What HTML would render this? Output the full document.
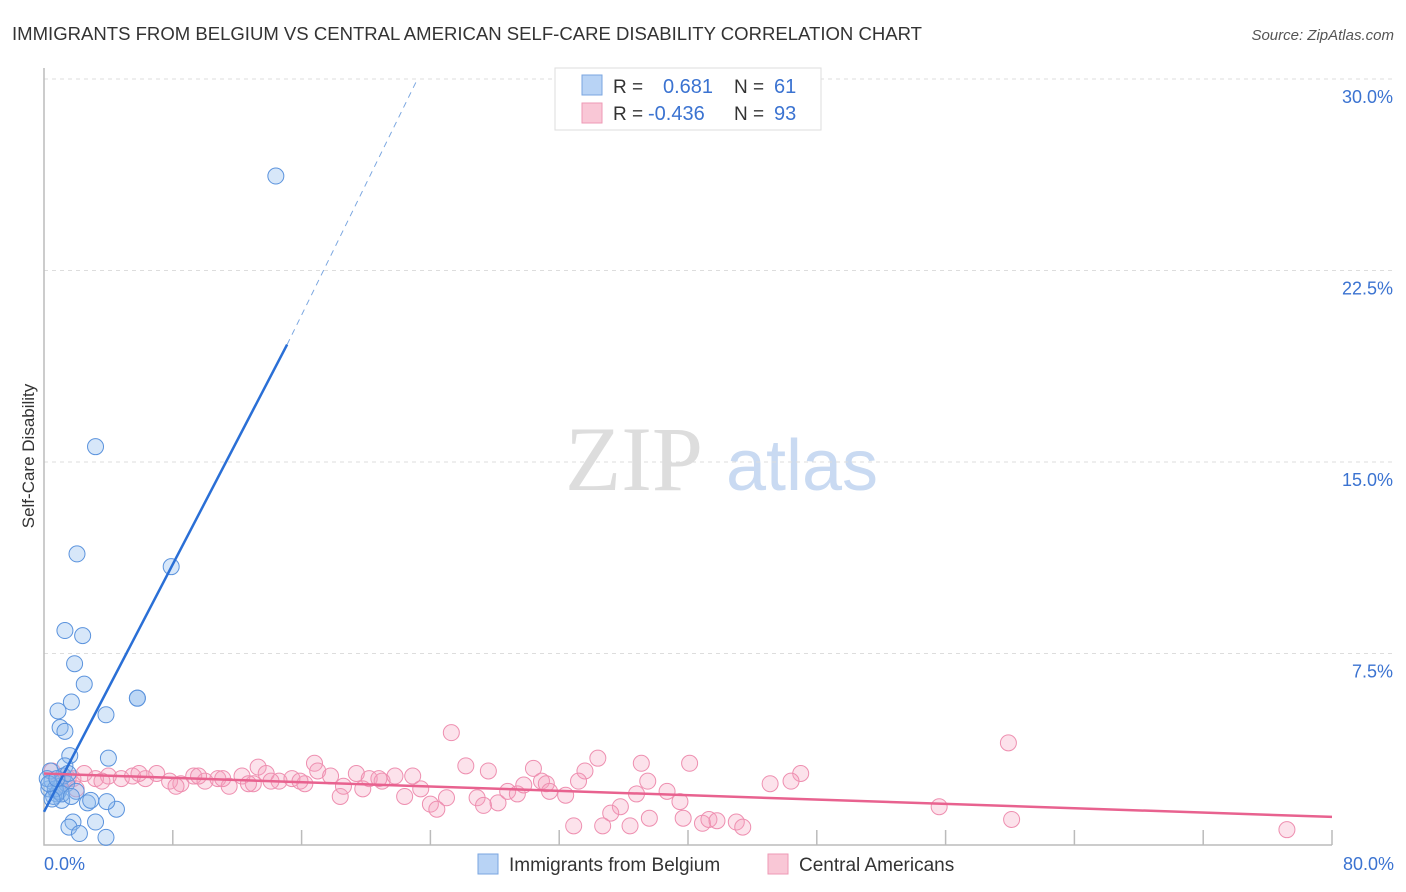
<!DOCTYPE html>
<html><head><meta charset="utf-8"><style>
body{margin:0;background:#fff;font-family:"Liberation Sans",sans-serif;}
</style></head><body>
<svg id="chart" width="1406" height="892" xmlns="http://www.w3.org/2000/svg" style="display:block">
<text x="12" y="40" font-size="18" fill="#333" textLength="910" lengthAdjust="spacingAndGlyphs">IMMIGRANTS FROM BELGIUM VS CENTRAL AMERICAN SELF-CARE DISABILITY CORRELATION CHART</text>
<text x="1394" y="40" font-size="15" fill="#555" font-style="italic" text-anchor="end">Source: ZipAtlas.com</text>
<text transform="translate(34,456) rotate(-90)" font-size="17" fill="#333" text-anchor="middle">Self-Care Disability</text>
<g>
<text x="634" y="490" font-size="92" fill="#ddd" font-family="Liberation Serif,serif" text-anchor="middle">ZIP</text>
<text x="802" y="490" font-size="72" fill="#c9daf2" text-anchor="middle">atlas</text>
</g>
<g id="grid"></g><g id="axes"></g><g id="pts"></g><g id="lines"></g>
<g>
<rect x="555" y="68" width="266" height="62" fill="#fff" stroke="#ddd"/>
<rect x="582" y="75" width="20" height="20" fill="#b8d3f5" stroke="#7aa6e0"/>
<rect x="582" y="103" width="20" height="20" fill="#f9c7d6" stroke="#ee9ab5"/>
<text x="613" y="93" font-size="19" fill="#333">R =</text>
<text x="663" y="93" font-size="20" fill="#3b73d1">0.681</text>
<text x="734" y="93" font-size="19" fill="#333">N =</text>
<text x="774" y="93" font-size="20" fill="#3b73d1">61</text>
<text x="613" y="120" font-size="19" fill="#333">R =</text>
<text x="648" y="120" font-size="20" fill="#3b73d1">-0.436</text>
<text x="734" y="120" font-size="19" fill="#333">N =</text>
<text x="774" y="120" font-size="20" fill="#3b73d1">93</text>
</g>
<g>
<rect x="478" y="854" width="20" height="20" fill="#b8d3f5" stroke="#7aa6e0"/>
<text x="509" y="871" font-size="19" fill="#333">Immigrants from Belgium</text>
<rect x="768" y="854" width="20" height="20" fill="#f9c7d6" stroke="#ee9ab5"/>
<text x="799" y="871" font-size="19" fill="#333">Central Americans</text>
</g>
</svg>
<script>
const blueX=[14.4,3.2,2.05,7.9,1.3,2.4,1.9,2.5,1.7,5.8,5.8,3.85,0.87,1.0,1.3,1.6,4.0,1.3,1.8,1.55,2.2,3.85,3.2,2.7,4.5,3.9,2.9,1.1,0.3,0.5,0.8,1.0,1.2,0.4,0.6,0.9,1.4,0.2,0.7,1.1,0.5,1.5,0.3,0.8,2.0,1.7];
const blueY=[26.2,15.6,11.4,10.9,8.4,8.2,7.1,6.3,5.6,5.75,5.75,5.1,5.25,4.6,4.45,3.5,3.4,3.1,0.9,0.7,0.45,0.3,0.9,1.65,1.4,1.7,1.75,1.75,2.2,2.5,2.0,2.3,2.7,2.9,1.9,2.1,2.4,2.6,2.2,2.0,1.8,2.8,2.4,2.6,2.1,1.9];
const pinkX=[25.3,59.9,55.6,60.1,77.2,47,45.1,46.4,40.1,34.4,37.1,26.2,16.8,13.3,27.6,30.4,33.6,37.5,36.8,38.7,39.5,35.8,35.2,32.9,34.7,36.4,37.6,39.7,40.9,41.3,41.8,43.0,43.4,24.0,24.4,25.0,26.9,27.3,28.2,22.4,18.4,28.8,29.4,30.9,31.2,31.4,32.4,33.2,29.8,23.4,22.9,0.5,1.2,1.8,2.5,3.2,4.0,4.8,5.5,6.3,7.0,7.8,8.5,9.3,10.0,10.8,11.5,12.3,13.0,13.8,14.6,15.4,16.2,17.0,17.8,18.6,19.4,20.2,21.0,21.8,19.8,20.8,3.6,5.9,8.2,11.1,14.1,0.9,2.0,1.5,9.6,12.7,15.9];
const pinkY=[4.4,4.0,1.5,1.0,0.6,2.8,2.4,2.5,3.2,3.4,3.2,3.1,3.2,3.05,2.9,3.0,2.9,2.5,2.0,2.1,1.7,1.5,1.25,0.75,0.75,0.75,1.05,1.05,0.85,1.0,0.95,0.9,0.7,1.6,1.4,1.85,1.85,1.55,1.65,1.9,1.9,2.1,2.0,2.5,2.4,2.1,1.95,2.5,2.35,2.2,2.7,2.9,2.7,2.6,2.8,2.6,2.7,2.6,2.7,2.6,2.8,2.5,2.4,2.7,2.5,2.6,2.3,2.7,2.4,2.8,2.5,2.6,2.4,2.9,2.7,2.3,2.8,2.6,2.5,2.7,2.2,2.6,2.5,2.8,2.3,2.6,2.5,2.4,2.2,2.6,2.7,2.4,2.5];
const yTicks=[7.5,15,22.5,30];
const yTickLabels=["7.5%","15.0%","22.5%","30.0%"];
const xTickLabels=["0.0%","80.0%"];
const blueLine=[0,1.3,15.1,19.6];
const blueDash=[15.1,19.6,23.2,30];
const pinkLine=[0,2.8,80,1.1];
const X=v=>44+v/80*1288, Y=v=>845-v/30*766;
const NS="http://www.w3.org/2000/svg";
function mk(t,a,p){const e=document.createElementNS(NS,t);for(const k in a)e.setAttribute(k,a[k]);p.appendChild(e);return e;}
const grid=document.getElementById('grid'),axes=document.getElementById('axes'),pts=document.getElementById('pts'),lines=document.getElementById('lines');
yTicks.forEach((v,i)=>{
 const l=mk('line',{x1:44,x2:1394,y1:Y(v),y2:Y(v),stroke:'#ddd','stroke-dasharray':'4,4'},grid);
 
 
 const t=mk('text',{x:1393,y:Y(v)+24,'font-size':18,fill:'#3b73d1','text-anchor':'end'},axes);
 t.textContent=yTickLabels[i];
 
 
});
const ax=mk('path',{d:`M44 68 V845 H1332`,stroke:'#bbb',fill:'none','stroke-width':1.5},axes);


for(let i=1;i<=10;i++){const tk=mk('line',{x1:X(i*8),x2:X(i*8),y1:830,y2:845,stroke:'#bbb','stroke-width':1.5},axes);
 
 }
[[0,'start',44],[1,'end',1394]].forEach(([i,a,x])=>{const t=mk('text',{x:x,y:870,'font-size':18,fill:'#3b73d1','text-anchor':a},axes);t.textContent=xTickLabels[i];
 
 });
pinkX.forEach((v,i)=>{const c=mk('circle',{cx:X(v),cy:Y(pinkY[i]),r:8,fill:'rgba(244,160,188,0.3)',stroke:'#ee8fb0','stroke-width':1},pts);
 
 });
blueX.forEach((v,i)=>{const c=mk('circle',{cx:X(v),cy:Y(blueY[i]),r:8,fill:'rgba(140,185,238,0.35)',stroke:'#5b93dd','stroke-width':1},pts);
 
 });
const b=mk('line',{x1:X(blueLine[0]),y1:Y(blueLine[1]),x2:X(blueLine[2]),y2:Y(blueLine[3]),stroke:'#2a6fd6','stroke-width':2.5},lines);


const bd=mk('line',{x1:X(blueDash[0]),y1:Y(blueDash[1]),x2:X(blueDash[2]),y2:Y(blueDash[3]),stroke:'#7aa6e0','stroke-width':1,'stroke-dasharray':'6,5'},lines);


const p=mk('line',{x1:X(pinkLine[0]),y1:Y(pinkLine[1]),x2:X(pinkLine[2]),y2:Y(pinkLine[3]),stroke:'#e8628f','stroke-width':2.5},lines);


</script>
</body></html>
